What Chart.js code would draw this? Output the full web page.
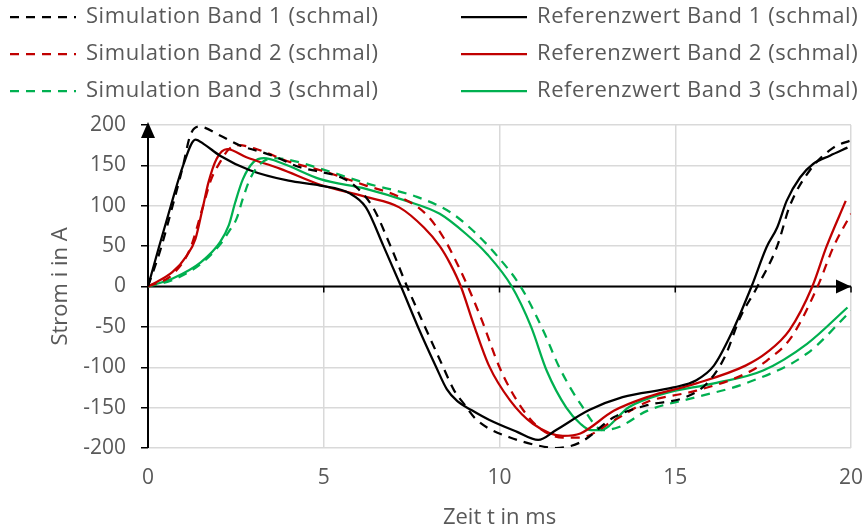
<!DOCTYPE html>
<html lang="de">
<head>
<meta charset="utf-8">
<title>Strom i über Zeit t</title>
<script src="https://cdn.jsdelivr.net/npm/chart.js@4.4.1/dist/chart.umd.min.js"></script>
<style>
  html, body { margin: 0; padding: 0; background: #fff; }
  #wrap { position: relative; width: 867px; height: 531px; }
</style>
</head>
<body>
<div id="wrap"><canvas id="stromChart"></canvas></div>
<script>
// Zeit t in ms und Strom i in A, je Band einmal Simulation und Referenzwert
const simT1 = [0, 0.35, 0.7, 1.0, 1.2, 1.45, 2.05, 2.6, 3.55, 4.3, 4.9, 5.5, 5.95, 6.4, 6.9, 7.37, 7.9, 8.4, 8.7, 9.0, 9.3, 9.7, 10.3, 11.0, 11.6, 12.3, 13.25, 14.2, 15.3, 15.9, 16.4, 16.85, 17.3, 17.9, 18.26, 18.83, 19.5, 20];
const simI1 = [0, 45, 100, 150, 187, 198, 187, 175, 162, 148, 142, 135, 122, 98, 50, 0, -52, -100, -128, -146, -163, -176, -187, -196, -200, -193, -162, -147, -137, -120, -88, -38, -3, 50, 100, 144, 172, 181];

const refT1 = [0, 0.3, 0.65, 1.0, 1.35, 1.6, 2.05, 2.9, 4.0, 4.9, 5.75, 6.2, 6.7, 7.2, 7.7, 8.2, 8.5, 8.8, 9.2, 9.7, 10.5, 11.1, 11.6, 12.55, 13.5, 14.95, 15.6, 16.1, 16.6, 17.17, 17.6, 17.9, 18.17, 18.55, 18.93, 19.4, 19.9];
const refI1 = [0, 47, 100, 150, 182, 176, 162, 144, 131, 125, 115, 98, 50, 0, -52, -100, -127, -142, -153, -165, -180, -190, -178, -153, -137, -125, -116, -98, -58, 0, 49, 73, 106, 135, 152, 162, 172];

const simT2 = [0, 0.7, 1.2, 1.57, 1.8, 2.05, 2.3, 2.6, 3.1, 4.05, 4.9, 6.2, 7.15, 7.9, 8.4, 8.8, 9.1, 9.5, 10.0, 10.55, 11.1, 11.8, 12.3, 13.25, 14.2, 15.6, 17.0, 17.6, 18.3, 19.05, 19.5, 20];
const simI2 = [0, 15, 47, 100, 133, 154, 170, 175, 170, 154, 144, 125, 111, 90, 61, 28, 0, -42, -100, -145, -174, -187, -187, -166, -143, -129, -108, -92, -63, 0, 49, 90];

const refT2 = [0, 0.7, 1.1, 1.35, 1.55, 1.72, 1.95, 2.25, 2.8, 3.75, 4.9, 6.2, 7.15, 7.85, 8.3, 8.6, 8.9, 9.25, 9.7, 10.3, 10.95, 11.8, 12.3, 13.25, 14.2, 15.6, 17.0, 17.6, 18.25, 18.9, 19.3, 19.85];
const refI2 = [0, 18, 38, 59, 96, 129, 158, 170, 160, 146, 126, 111, 98, 73, 50, 28, 0, -45, -98, -141, -170, -185, -182, -154, -137, -120, -98, -82, -54, 0, 49, 106];

const simT3 = [0, 0.7, 1.5, 2.05, 2.3, 2.52, 2.7, 2.9, 3.2, 3.55, 4.1, 4.9, 6.2, 7.65, 8.6, 9.25, 9.85, 10.6, 11.25, 11.7, 12.3, 12.95, 13.4, 14.2, 15.6, 17.0, 18.75, 20];
const simI3 = [0, 8, 28, 52, 68, 84, 109, 133, 152, 159, 156, 146, 128, 111, 92, 69, 42, 0, -55, -100, -145, -178, -174, -154, -137, -120, -83, -30];

const refT3 = [0, 0.7, 1.5, 2.05, 2.3, 2.48, 2.7, 3.0, 3.3, 3.85, 4.9, 6.2, 7.35, 8.3, 9.05, 9.65, 10.35, 10.9, 11.35, 11.9, 12.3, 12.6, 12.85, 13.7, 14.65, 16.1, 17.5, 18.75, 19.9];
const refI3 = [0, 10, 30, 55, 76, 104, 133, 154, 159, 152, 133, 121, 106, 90, 65, 40, 0, -50, -105, -150, -170, -178, -178, -149, -133, -120, -104, -71, -26];

const seriesLabels = [
  'Simulation Band 1 (schmal)', 'Simulation Band 2 (schmal)', 'Simulation Band 3 (schmal)',
  'Referenzwert Band 1 (schmal)', 'Referenzwert Band 2 (schmal)', 'Referenzwert Band 3 (schmal)'
];
const xRange = [0, 20];
const xStep = 5;
const yRange = [-200, 200];
const yStep = 50;

const bandColors = ['#000000', '#C00000', '#00B050'];
const textGray = '#595959';
const gridGray = '#D9D9D9';
const FONT = '"Open Sans", sans-serif';

function toPoints(ts, is) {
  return ts.map((t, k) => ({ x: t, y: is[k] }));
}

const seriesData = [
  toPoints(simT1, simI1), toPoints(simT2, simI2), toPoints(simT3, simI3),
  toPoints(refT1, refI1), toPoints(refT2, refI2), toPoints(refT3, refI3)
];

const datasets = seriesData.map((pts, n) => ({
  label: seriesLabels[n],
  data: pts,
  borderColor: bandColors[n % 3],
  backgroundColor: bandColors[n % 3],
  borderWidth: 2.25,
  borderDash: n < 3 ? [9, 7] : [],
  pointRadius: 0,
  fill: false,
  cubicInterpolationMode: 'monotone'
}));

// Achsen mit Pfeilspitzen durch den Nullpunkt
const axesArrows = {
  id: 'axesArrows',
  beforeDatasetsDraw(chart) {
    const { ctx, scales: { x, y } } = chart;
    const x0 = x.getPixelForValue(0);
    const y0 = y.getPixelForValue(0);
    const xEnd = x.getPixelForValue(xRange[1]);
    const yTop = y.getPixelForValue(yRange[1]);
    const yBot = y.getPixelForValue(yRange[0]);
    ctx.save();
    ctx.strokeStyle = '#000';
    ctx.fillStyle = '#000';
    ctx.lineWidth = 2;
    ctx.beginPath();
    ctx.moveTo(x0, yBot);
    ctx.lineTo(x0, yTop);
    ctx.moveTo(x0, y0);
    ctx.lineTo(xEnd, y0);
    ctx.stroke();
    // Teilstriche auf der Zeitachse
    ctx.lineWidth = 1.5;
    ctx.beginPath();
    for (let t = xRange[0] + xStep; t <= xRange[1]; t += xStep) {
      const px = x.getPixelForValue(t);
      ctx.moveTo(px, y0);
      ctx.lineTo(px, y0 + 6);
    }
    ctx.stroke();
    // Pfeil nach oben
    ctx.beginPath();
    ctx.moveTo(x0, yTop - 3);
    ctx.lineTo(x0 - 7, yTop + 13);
    ctx.lineTo(x0 + 7, yTop + 13);
    ctx.closePath();
    ctx.fill();
    // Pfeil nach rechts
    ctx.beginPath();
    ctx.moveTo(xEnd, y0);
    ctx.lineTo(xEnd - 15, y0 - 7);
    ctx.lineTo(xEnd - 15, y0 + 7);
    ctx.closePath();
    ctx.fill();
    ctx.restore();
  }
};

// Legende in zwei Spalten: links Simulation, rechts Referenzwert
const twoColumnLegend = {
  id: 'twoColumnLegend',
  afterDraw(chart) {
    const ctx = chart.ctx;
    const cols = [{ lineX: 10, textX: 86 }, { lineX: 461, textX: 537 }];
    const rowY = [17, 54, 91];
    const lineLen = 66;
    ctx.save();
    ctx.font = '22px ' + FONT;
    ctx.letterSpacing = '0.55px';
    ctx.textBaseline = 'middle';
    ctx.textAlign = 'left';
    chart.data.datasets.forEach((ds, n) => {
      const col = cols[Math.floor(n / 3)];
      const yy = rowY[n % 3];
      ctx.strokeStyle = ds.borderColor;
      ctx.lineWidth = ds.borderWidth;
      ctx.setLineDash(ds.borderDash);
      ctx.beginPath();
      ctx.moveTo(col.lineX, yy);
      ctx.lineTo(col.lineX + lineLen, yy);
      ctx.stroke();
      ctx.setLineDash([]);
      ctx.fillStyle = textGray;
      ctx.fillText(ds.label, col.textX, yy);
    });
    ctx.restore();
  }
};

new Chart(document.getElementById('stromChart'), {
  type: 'line',
  data: { datasets },
  plugins: [axesArrows, twoColumnLegend],
  options: {
    responsive: true,
    maintainAspectRatio: false,
    animation: false,
    events: [],
    layout: { padding: { top: 125, right: 16, left: 0, bottom: 0 } },
    plugins: { legend: { display: false }, tooltip: { enabled: false } },
    scales: {
      x: {
        type: 'linear',
        min: xRange[0],
        max: xRange[1],
        ticks: { stepSize: xStep, color: textGray, font: { family: FONT, size: 21, lineHeight: '54px' }, padding: 3 },
        grid: {
          color: (c) => (c.tick && c.tick.value === 0 ? 'rgba(0,0,0,0)' : gridGray),
          lineWidth: 1.5,
          drawTicks: false
        },
        border: { display: false },
        title: { display: true, text: 'Zeit t in ms', color: textGray, font: { family: FONT, size: 22 }, padding: { top: 4, bottom: 0 } },
        afterFit(s) { s.height = 83; }
      },
      y: {
        min: yRange[0],
        max: yRange[1],
        ticks: { stepSize: yStep, color: textGray, font: { family: FONT, size: 21 }, padding: 15 },
        grid: { color: gridGray, lineWidth: 1.5, drawTicks: true, tickLength: 7, tickColor: '#000', tickWidth: 1.5 },
        border: { display: false },
        title: { display: true, text: 'Strom i in A', color: textGray, font: { family: FONT, size: 22 }, padding: { top: 48, bottom: 0 } },
        afterFit(s) { s.width = 148; }
      }
    }
  }
});
</script>
</body>
</html>
